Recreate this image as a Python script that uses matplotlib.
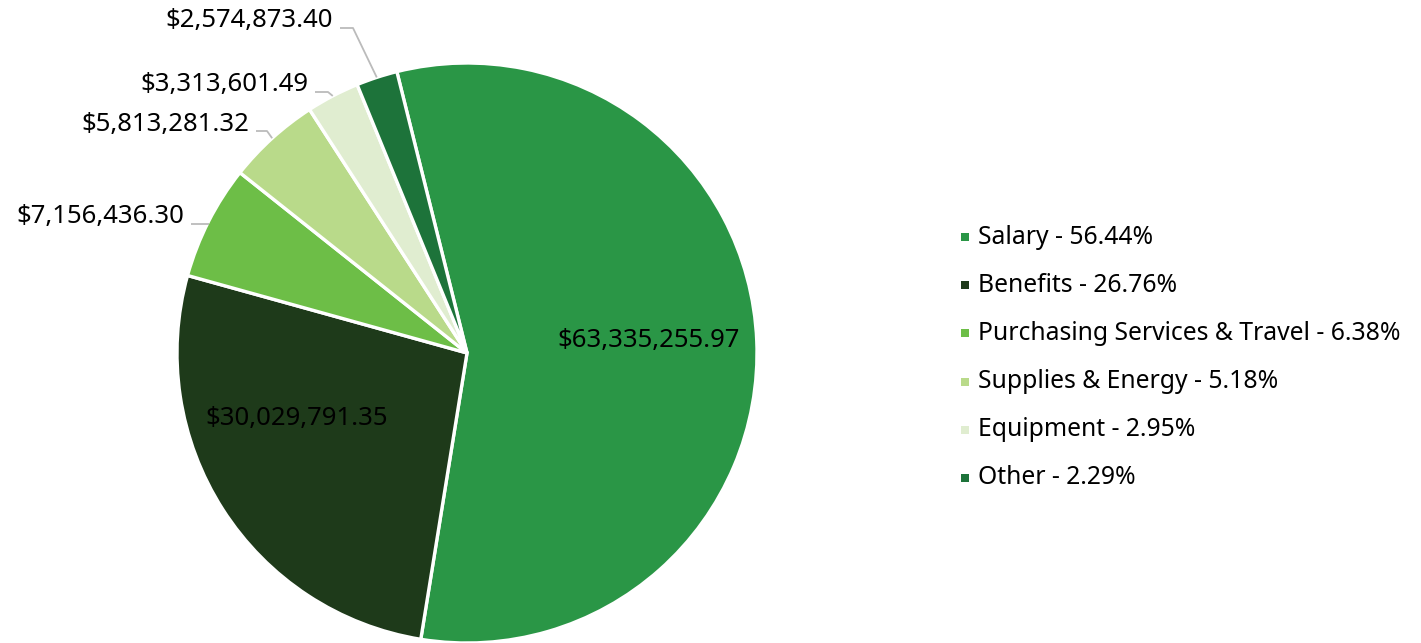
import numpy as np
import matplotlib
matplotlib.use("Agg")
import matplotlib.pyplot as plt

plt.rcParams['font.family'] = ['Noto Sans', 'DejaVu Sans']

categories = ["Salary", "Benefits", "Purchasing Services & Travel",
              "Supplies & Energy", "Equipment", "Other"]
values = [63335255.97, 30029791.35, 7156436.30, 5813281.32, 3313601.49, 2574873.40]
percent_labels = ["56.44%", "26.76%", "6.38%", "5.18%", "2.95%", "2.29%"]
value_labels = ["$63,335,255.97", "$30,029,791.35", "$7,156,436.30",
                "$5,813,281.32", "$3,313,601.49", "$2,574,873.40"]
colors = ["#2A9646", "#1E3A1A", "#6DBE47", "#B9DA8A", "#E0EDD0", "#1D733A"]

W, H = 1421, 643
fig = plt.figure(figsize=(W / 100, H / 100), dpi=100)
ax = fig.add_axes([0, 0, 1, 1])

cx, cy, R = 467, H - 353, 290
start = 104.0
wedges, _ = ax.pie(values, colors=colors, startangle=start, counterclock=False,
                   center=(cx, cy), radius=R, frame=True,
                   wedgeprops=dict(edgecolor='white', linewidth=2.4))
ax.set_xlim(0, W)
ax.set_ylim(0, H)
ax.set_aspect('equal')
ax.axis('off')

# inside labels (Salary, Benefits)
inner_pos = {0: (649, H - 341), 1: (297, H - 418)}
for i, (x, y) in inner_pos.items():
    ax.text(x, y, value_labels[i], ha='center', va='center', fontsize=18.5, color='black')

# outside labels with leader lines
outer = {  # index: (text right x, text center y in px-from-top, elbow x)
    2: (184, 217, None),
    3: (249, 124, 267),
    4: (308, 85, 328),
    5: (333, 21, 353),
}
for i, (tx, ty, ex) in outer.items():
    w = wedges[i]
    mid = np.deg2rad((w.theta1 + w.theta2) / 2)
    ax_ = cx + R * np.cos(mid)
    ay_ = cy + R * np.sin(mid)
    ly = H - ty - 7
    if ex is None:
        xs = [tx + 7, ax_]
        ys = [ly, ly]
    else:
        xs = [tx + 7, ex, ax_]
        ys = [ly, ly, ay_]
    ax.plot(xs, ys, color='#BBBBBB', lw=1.3, solid_capstyle='butt', zorder=1)
    ax.text(tx, H - ty, value_labels[i], ha='right', va='center', fontsize=18.5, color='black')

# legend
ly0, dy = 237, 48.2
for i, cat in enumerate(categories):
    y = H - (ly0 + i * dy)
    ax.scatter([964.5], [y], marker='s', s=40, color=colors[i], linewidths=0)
    ax.text(978, y, f"{cat} - {percent_labels[i]}", ha='left', va='center',
            fontsize=17.8, color='black')

fig.savefig("out.png", dpi=100)
